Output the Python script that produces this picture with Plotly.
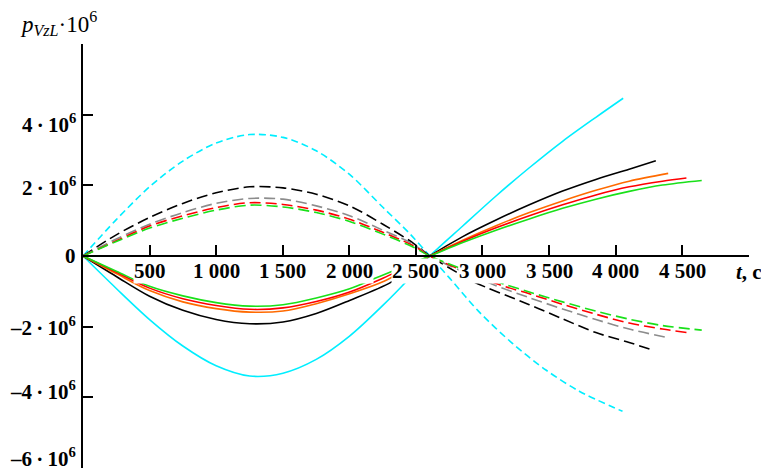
import plotly.graph_objects as go

# ---- data (values in units of 1e6) ----
cyan_dash_t = [0, 250, 500, 750, 1000, 1252, 1502, 1752, 2002, 2252, 2452, 2605, 2752, 2977, 3227, 3477, 3727, 4052]
cyan_dash_v = [0, 1.03, 1.96, 2.69, 3.20, 3.44, 3.36, 2.98, 2.31, 1.38, 0.64, 0, -0.62, -1.59, -2.48, -3.23, -3.83, -4.40]
cyan_solid_t = [0, 250, 500, 750, 1000, 1252, 1502, 1752, 2002, 2252, 2452, 2605, 2852, 3102, 3352, 3602, 3852, 4057]
cyan_solid_v = [0, -0.92, -1.80, -2.55, -3.11, -3.40, -3.32, -2.93, -2.27, -1.40, -0.63, 0, 0.85, 1.70, 2.50, 3.25, 3.93, 4.47]

black_dash_t = [0, 250, 500, 750, 1000, 1252, 1502, 1752, 2002, 2252, 2482, 2605, 2802, 2927, 3352, 3602, 3852, 4102, 4282]
black_dash_v = [0, 0.60, 1.09, 1.49, 1.79, 1.96, 1.93, 1.75, 1.42, 0.90, 0.36, 0, -0.45, -0.72, -1.38, -1.78, -2.17, -2.45, -2.67]
black_solid_t = [0, 250, 500, 750, 1000, 1252, 1502, 1752, 2002, 2315, 2605, 2852, 3102, 3352, 3602, 3852, 4102, 4302]
black_solid_v = [0, -0.58, -1.14, -1.54, -1.80, -1.92, -1.87, -1.63, -1.26, -0.74, 0, 0.55, 1.02, 1.45, 1.84, 2.17, 2.46, 2.70]

gray_dash_t = [0, 250, 500, 750, 1000, 1252, 1502, 1752, 2002, 2252, 2482, 2605, 3102, 3352, 3602, 3852, 4102, 4392]
gray_dash_v = [0, 0.48, 0.90, 1.23, 1.49, 1.63, 1.61, 1.42, 1.14, 0.73, 0.33, 0, -0.84, -1.18, -1.50, -1.80, -2.07, -2.31]
orange_solid_t = [0, 250, 500, 750, 1000, 1252, 1502, 1752, 2002, 2265, 2605, 2852, 3102, 3352, 3602, 3852, 4102, 4395]
orange_solid_v = [0, -0.50, -0.98, -1.30, -1.49, -1.59, -1.56, -1.35, -1.07, -0.71, 0, 0.45, 0.86, 1.23, 1.56, 1.86, 2.12, 2.34]

red_dash_t = [0, 250, 500, 750, 1000, 1252, 1502, 1752, 2002, 2252, 2482, 2605, 3102, 3352, 3602, 3852, 4102, 4352, 4535]
red_dash_v = [0, 0.43, 0.85, 1.14, 1.37, 1.51, 1.46, 1.30, 1.04, 0.67, 0.29, 0, -0.78, -1.07, -1.37, -1.65, -1.90, -2.07, -2.17]
red_solid_t = [0, 250, 500, 750, 1000, 1252, 1502, 1752, 2002, 2240, 2605, 2852, 3102, 3352, 3602, 3852, 4102, 4352, 4532]
red_solid_v = [0, -0.46, -0.91, -1.21, -1.40, -1.51, -1.47, -1.29, -1.02, -0.65, 0, 0.42, 0.80, 1.14, 1.45, 1.73, 1.96, 2.12, 2.21]

green_dash_t = [0, 250, 500, 750, 1000, 1252, 1502, 1752, 2002, 2252, 2482, 2605, 3102, 3352, 3602, 3852, 4102, 4352, 4647]
green_dash_v = [0, 0.41, 0.79, 1.07, 1.30, 1.44, 1.39, 1.23, 0.98, 0.62, 0.25, 0, -0.72, -1.02, -1.30, -1.56, -1.79, -1.97, -2.10]
green_solid_t = [0, 250, 500, 750, 1000, 1252, 1502, 1752, 2002, 2227, 2605, 2852, 3102, 3352, 3602, 3852, 4102, 4352, 4647]
green_solid_v = [0, -0.43, -0.86, -1.13, -1.32, -1.42, -1.38, -1.19, -0.93, -0.58, 0, 0.38, 0.73, 1.05, 1.35, 1.61, 1.83, 2.01, 2.14]

x_tick_vals = [500, 1000, 1500, 2000, 2500, 3000, 3500, 4000, 4500, 5000]
x_tick_labels = ["500", "1 000", "1 500", "2 000", "2 500", "3 000", "3 500", "4 000", "4 500"]
y_tick_vals = [-6e6, -4e6, -2e6, 0, 2e6, 4e6, 6e6]
y_tick_labels = ["–6\u2009·\u200910<sup>6</sup>", "–4\u2009·\u200910<sup>6</sup>", "–2\u2009·\u200910<sup>6</sup>", "0",
                 "2\u2009·\u200910<sup>6</sup>", "4\u2009·\u200910<sup>6</sup>", ""]
# vertical nudge (px) of each y label relative to its tick, as placed in the original
y_label_shift = [10, 7, 0, 0, -1, -9, 0]

SCALE = 1e6
CYAN, BLACK, GRAY, ORANGE, RED, GREEN = "#00EEFF", "#000000", "#8C8C8C", "#FF6A00", "#FF0000", "#19E019"

series = [
    (cyan_dash_t, cyan_dash_v, CYAN, "7px,4px"),
    (black_dash_t, black_dash_v, BLACK, "11px,5px"),
    (gray_dash_t, gray_dash_v, GRAY, "11px,5px"),
    (red_dash_t, red_dash_v, RED, "11px,5px"),
    (green_dash_t, green_dash_v, GREEN, "11px,5px"),
    (cyan_solid_t, cyan_solid_v, CYAN, "solid"),
    (black_solid_t, black_solid_v, BLACK, "solid"),
    (orange_solid_t, orange_solid_v, ORANGE, "solid"),
    (red_solid_t, red_solid_v, RED, "solid"),
    (green_solid_t, green_solid_v, GREEN, "solid"),
]

fig = go.Figure()
for t, v, col, dash in series:
    fig.add_trace(go.Scatter(
        x=t, y=[val * SCALE for val in v], mode="lines",
        line=dict(color=col, width=1.6, dash=dash, shape="spline", smoothing=0.9),
        showlegend=False, hoverinfo="skip"))

FONT = "Liberation Serif"
BOLD = dict(family=FONT, size=21, color="black", weight="bold")

annotations = []
for tv, lab in zip(x_tick_vals, x_tick_labels):
    annotations.append(dict(
        x=tv, y=0, xref="x", yref="y", text=lab, showarrow=False,
        xanchor="center", yanchor="top", yshift=-2,
        bgcolor="white", borderpad=0, font=BOLD))
for yv, lab, sh in zip(y_tick_vals, y_tick_labels, y_label_shift):
    if lab:
        annotations.append(dict(
            x=0, y=yv, xref="paper", yref="y", text=lab, showarrow=False,
            xanchor="right", yanchor="middle", xshift=-5, yshift=sh, font=BOLD))
annotations.append(dict(
    x=5000, y=0, xref="x", yref="y", text="<i>t</i>, c", showarrow=False,
    xanchor="left", yanchor="top", xshift=-15, yshift=-2, font=BOLD))
annotations.append(dict(
    x=-0.098, y=1.09, xref="paper", yref="paper",
    text="<i>p</i><sub><i>VzL</i></sub>·10<sup>6</sup>", showarrow=False,
    xanchor="left", yanchor="top",
    font=dict(family=FONT, size=23, color="black")))

# page body has an 8px margin: offset the plot area so it lands at x 83..749, y 44..468
fig.update_layout(
    width=769, height=472,
    margin=dict(l=75, r=28, t=36, b=12, autoexpand=False),
    paper_bgcolor="white", plot_bgcolor="white",
    xaxis=dict(range=[0, 5002], anchor="free", position=0.5, automargin=False,
               showline=True, linecolor="black", linewidth=1.5,
               ticks="inside", ticklen=10, tickwidth=1.5, tickcolor="black",
               tickvals=x_tick_vals, showticklabels=False,
               showgrid=False, zeroline=False),
    yaxis=dict(range=[-6.006e6, 6.006e6], automargin=False,
               showline=True, linecolor="black", linewidth=1.5,
               ticks="inside", ticklen=10, tickwidth=1.5, tickcolor="black",
               tickvals=y_tick_vals, showticklabels=False,
               showgrid=False, zeroline=False),
    annotations=annotations,
)

fig.write_html("out.html")
